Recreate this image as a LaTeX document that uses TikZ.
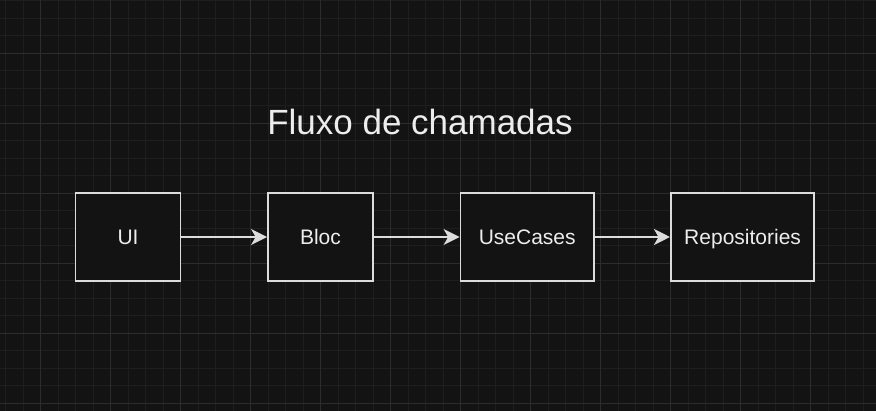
\documentclass[tikz,border=0pt]{standalone}
\usepackage{fontspec}
\setmainfont{Liberation Sans}
\usetikzlibrary{arrows.meta}
\definecolor{bgdark}{HTML}{131313}
\definecolor{gridminor}{HTML}{1E1E1E}
\definecolor{gridmajor}{HTML}{2C2C2C}
\definecolor{boxline}{HTML}{DCDCDC}
\definecolor{labeltext}{HTML}{EDEDED}

\begin{document}
\begin{tikzpicture}[x=1pt, y=-1pt,
    box/.style={draw=boxline, fill=bgdark, line width=1.75pt, minimum height=87.5pt,
        inner sep=0pt, text=labeltext, text height=15pt, text depth=0.5pt,
        font=\fontsize{21}{25}\selectfont},
    flow/.style={draw=boxline, line width=1.75pt,
        -{Stealth[length=16pt, width=16pt, inset=4.5pt]}}]
\fill[bgdark] (0, 0) rectangle (876, 411);
\useasboundingbox (0, 0) rectangle (876, 411);
% grid
\foreach \x in {0,...,50}
    \draw[gridminor, line width=1pt] (5.7 + 17.5*\x, 0) -- (5.7 + 17.5*\x, 411);
\foreach \y in {0,...,23}
    \draw[gridminor, line width=1pt] (0, 0.8 + 17.5*\y) -- (876, 0.8 + 17.5*\y);
\foreach \x in {0,...,12}
    \draw[gridmajor, line width=1pt] (40.7 + 70*\x, 0) -- (40.7 + 70*\x, 411);
\foreach \y in {0,...,5}
    \draw[gridmajor, line width=1pt] (0, 53.3 + 70*\y) -- (876, 53.3 + 70*\y);

\node[text=labeltext, font=\fontsize{35}{42}\selectfont] (title) at (420, 122) {Fluxo de chamadas};

\node[box, minimum width=105pt] (ui) at (128, 237) {UI};
\node[box, minimum width=105pt] (bloc) at (320.5, 237) {Bloc};
\node[box, minimum width=133.5pt] (usecases) at (527.25, 237) {UseCases};
\node[box, minimum width=143.5pt] (repos) at (742.6, 237) {Repositories};

\draw[flow] (ui) -- (bloc);
\draw[flow] (bloc) -- (usecases);
\draw[flow] (usecases) -- (repos);
\end{tikzpicture}
\end{document}
